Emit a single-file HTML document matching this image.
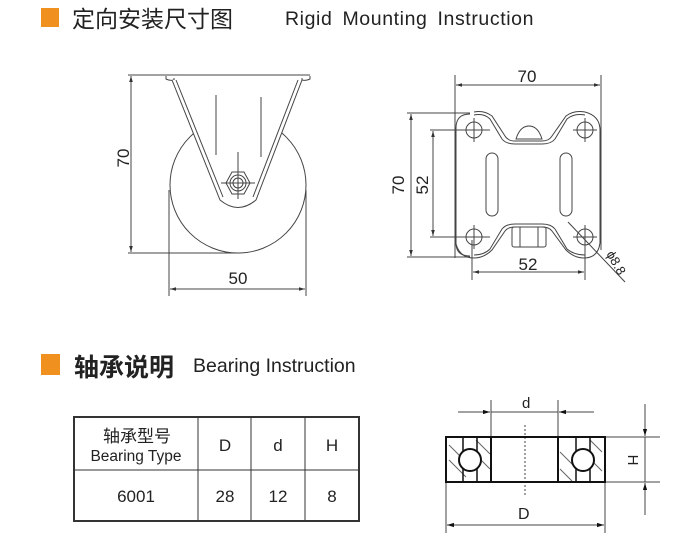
<!DOCTYPE html>
<html><head><meta charset="utf-8"><style>
body{margin:0;width:698px;height:544px;background:#fff;overflow:hidden}
svg{position:absolute;left:0;top:0}
text{font-family:"Liberation Sans","Noto Sans CJK SC",sans-serif;fill:#222}
</style></head><body>
<svg width="698" height="544" viewBox="0 0 698 544">
<defs>
<marker id="a" viewBox="0 0 10 10" refX="10" refY="5" markerWidth="8" markerHeight="6" orient="auto-start-reverse"><path d="M0,2 L10,5 L0,8z" fill="#333"/></marker>
<marker id="b" viewBox="0 0 10 10" refX="10" refY="5" markerWidth="16" markerHeight="7" markerUnits="userSpaceOnUse" orient="auto-start-reverse"><path d="M0,2 L10,5 L0,8z" fill="#111"/></marker>
</defs>
<!-- headers -->
<rect x="41" y="8" width="18" height="19" fill="#f0901e"/>
<text x="72" y="27" font-size="23" fill="#222">定向安装尺寸图</text>
<text x="285" y="25" font-size="19.5" letter-spacing="0.6" word-spacing="4">Rigid Mounting Instruction</text>
<rect x="41" y="354" width="19" height="21" fill="#f0901e"/>
<text x="74" y="376" font-size="25" font-weight="bold" fill="#333">轴承说明</text>
<text x="193" y="372" font-size="19.5">Bearing Instruction</text>

<g stroke="#444" stroke-width="1" fill="none">
<!-- left caster -->
<line x1="128" y1="75" x2="310" y2="75"/>
<line x1="128" y1="253" x2="240" y2="253"/>
<line x1="131" y1="76" x2="131" y2="252" marker-start="url(#a)" marker-end="url(#a)"/>
<path d="M166,76 L166,79 Q170,81 174,80 L174,78"/>
<path d="M310,76 L310,79 Q306,81 302,80 L302,78"/>
<circle cx="238" cy="185" r="68" fill="#fff"/>
<path d="M172,80 L220,200 Q238,215 256,200 L302,80" fill="#fff"/>
<path d="M176,80 L223,197"/>
<path d="M298,80 L253,197"/>
<line x1="216" y1="95" x2="216" y2="155"/>
<line x1="261" y1="97" x2="261" y2="157"/>
<polygon points="226,183 232,172 244,172 250,183 244,194 232,194"/>
<circle cx="238" cy="183" r="8"/>
<circle cx="238" cy="183" r="5"/>
<line x1="221" y1="183" x2="255" y2="183"/>
<line x1="238" y1="152" x2="238" y2="199"/>
<line x1="169" y1="190" x2="169" y2="296"/>
<line x1="306" y1="190" x2="306" y2="296"/>
<line x1="170" y1="289" x2="305" y2="289" marker-start="url(#a)" marker-end="url(#a)"/>

<!-- right plate -->
<line x1="455" y1="75" x2="455" y2="258"/>
<line x1="601" y1="75" x2="601" y2="250"/>
<line x1="456" y1="85" x2="600" y2="85" marker-start="url(#a)" marker-end="url(#a)"/>
<line x1="407" y1="113" x2="470" y2="113"/>
<line x1="407" y1="257" x2="470" y2="257"/>
<line x1="411" y1="114" x2="411" y2="256" marker-start="url(#a)" marker-end="url(#a)"/>
<line x1="430" y1="130" x2="490" y2="130"/>
<line x1="430" y1="237" x2="490" y2="237"/>
<line x1="433" y1="131" x2="433" y2="236" marker-start="url(#a)" marker-end="url(#a)"/>
<path d="M470,114 Q456,114 456,128 L456,243 Q456,256 470,256"/>
<path d="M474,112 Q484,110 492,116 L505,136 Q508,141 515,141 L542,141 Q549,141 552,136 L566,116 Q574,110 585,112 Q600,116 600,130 L600,243 Q598,258 584,258 Q574,258 566,250 L552,231 Q549,227 542,227 L515,227 Q508,227 505,231 L492,250 Q484,258 474,258 Q460,258 456,244"/>
<path d="M474,115 Q484,113 490,119 L502,139 Q506,144 515,144 L542,144 Q551,144 555,139 L567,119 Q574,113 585,115"/>
<path d="M474,255 Q484,255 490,249 L502,229 Q506,224 515,224 L542,224 Q551,224 555,229 L567,249 Q574,255 585,255"/>
<path d="M516,139 Q520,126 529,126 Q538,126 542,139 Z"/>
<rect x="512" y="227" width="34" height="20" rx="2"/>
<line x1="520" y1="227" x2="520" y2="247"/><line x1="538" y1="227" x2="538" y2="247"/>
<rect x="486" y="153" width="12" height="63" rx="6"/>
<rect x="560" y="153" width="12" height="63" rx="6"/>
<circle cx="474" cy="130" r="8"/><circle cx="585" cy="130" r="8"/>
<circle cx="474" cy="237" r="8"/><circle cx="585" cy="237" r="8"/>
<path d="M462,130h24M474,118v24M573,130h24M585,118v24M462,237h24M474,225v24M573,237h24M585,225v24"/>
<line x1="472" y1="240" x2="472" y2="280"/>
<line x1="585" y1="240" x2="585" y2="280"/>
<line x1="473" y1="272" x2="584" y2="272" marker-start="url(#a)" marker-end="url(#a)"/>
<line x1="568" y1="222" x2="625" y2="282"/>

<!-- bearing -->
<line x1="525" y1="425" x2="525" y2="495" stroke-dasharray="2,2"/>
<line x1="491" y1="400" x2="491" y2="437"/>
<line x1="558" y1="400" x2="558" y2="437"/>
<line x1="458" y1="412" x2="490" y2="412" marker-end="url(#b)"/>
<line x1="594" y1="412" x2="559" y2="412" marker-end="url(#b)"/>
<line x1="491" y1="412" x2="558" y2="412"/>
<line x1="605" y1="437" x2="660" y2="437"/>
<line x1="605" y1="482" x2="660" y2="482"/>
<line x1="645" y1="404" x2="645" y2="436" marker-end="url(#b)"/>
<line x1="645" y1="515" x2="645" y2="483" marker-end="url(#b)"/>
<line x1="645" y1="437" x2="645" y2="482"/>
<line x1="446" y1="482" x2="446" y2="533"/>
<line x1="605" y1="482" x2="605" y2="533"/>
<line x1="447" y1="525" x2="604" y2="525" marker-start="url(#b)" marker-end="url(#b)"/>
<path d="M449,445 L470,466 M449,460 L466,477 M476,440 L490,454 M476,455 L490,469 M560,452 L575,467 M560,469 L572,481 M590,440 L602,452 M588,457 L602,471" stroke="#666"/>
</g>
<g stroke="#111" stroke-width="2" fill="none">
<rect x="446" y="437" width="159" height="45"/>
<line x1="491" y1="437" x2="491" y2="482"/>
<line x1="558" y1="437" x2="558" y2="482"/>
<line x1="463" y1="437" x2="463" y2="482" stroke-width="1.5"/>
<line x1="477" y1="437" x2="477" y2="482" stroke-width="1.5"/>
<line x1="576" y1="437" x2="576" y2="482" stroke-width="1.5"/>
<line x1="590" y1="437" x2="590" y2="482" stroke-width="1.5"/>
<circle cx="470" cy="460" r="11" fill="#fff"/>
<circle cx="583" cy="460" r="11" fill="#fff"/>
</g>
<text x="522" y="408" font-size="15">d</text>
<text x="518" y="519" font-size="16">D</text>
<text x="628" y="460" font-size="15" transform="rotate(90 628 460)" text-anchor="middle">H</text>

<!-- dim text -->
<text x="238" y="284" font-size="17" text-anchor="middle">50</text>
<text x="123" y="164" font-size="17" text-anchor="middle" transform="rotate(-90 123 158)">70</text>
<text x="527" y="82" font-size="17" text-anchor="middle">70</text>
<text x="404" y="185" font-size="17" text-anchor="middle" transform="rotate(-90 404 185)">70</text>
<text x="428" y="185" font-size="17" text-anchor="middle" transform="rotate(-90 428 185)">52</text>
<text x="528" y="270" font-size="17" text-anchor="middle">52</text>
<text x="606" y="254" font-size="13" transform="rotate(60 606 254)">ϕ8.8</text>

<!-- table -->
<g stroke="#333" fill="none">
<rect x="74" y="417" width="285" height="104" stroke-width="2"/>
<line x1="74" y1="470" x2="359" y2="470"/>
<line x1="198" y1="417" x2="198" y2="521"/>
<line x1="251" y1="417" x2="251" y2="521"/>
<line x1="305" y1="417" x2="305" y2="521"/>
</g>
<g font-size="17" text-anchor="middle">
<text x="137" y="442">轴承型号</text>
<text x="136" y="461" font-size="15.5">Bearing Type</text>
<text x="225" y="451">D</text>
<text x="278" y="451">d</text>
<text x="332" y="451">H</text>
<text x="136" y="502">6001</text>
<text x="225" y="502">28</text>
<text x="278" y="502">12</text>
<text x="332" y="502">8</text>
</g>
</svg>
</body></html>
